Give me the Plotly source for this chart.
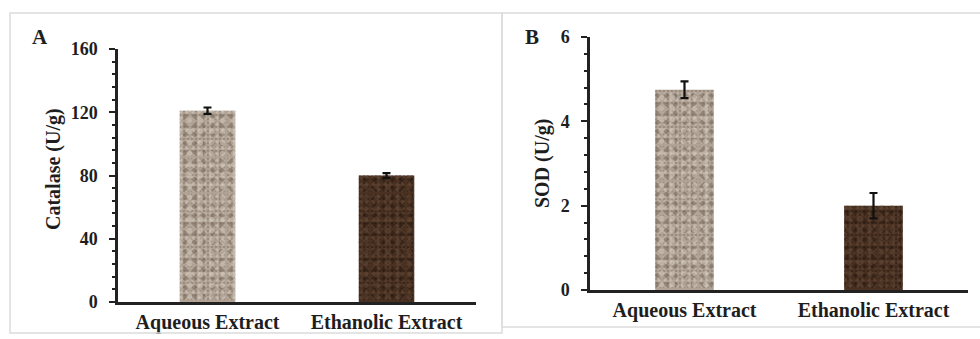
import plotly.graph_objects as go

W, H = 980, 339

categories = ["Aqueous Extract", "Ethanolic Extract"]
catalase = [121, 80]
catalase_err = [2.0, 1.5]
sod = [4.75, 2.0]
sod_err = [0.2, 0.3]

catalase_ticks = [0, 40, 80, 120, 160]
sod_ticks = [0, 2, 4, 6]

bar_bg = ["#b1a395", "#4a3122"]
# speckle layers: (shape, size, solidity, colours per bar)
speckles = [
    (".", 4, 0.3, ["#827366", "#2a190f"]),
    (".", 6, 0.25, ["#dad1c7", "#6a4e3b"]),
    (".", 9, 0.22, ["#6c5e52", "#22140b"]),
    (".", 11, 0.18, ["#d4cabf", "#5f4533"]),
]

FONT = "Liberation Serif"

def px(x):
    return x / W

def py(y):
    return 1 - y / H

fig = go.Figure()

for i, (vals, errs) in enumerate([(catalase, catalase_err), (sod, sod_err)]):
    suffix = "" if i == 0 else str(i + 1)
    fig.add_trace(go.Bar(
        x=categories, y=vals, width=0.31,
        marker=dict(color=bar_bg, line=dict(width=0)),
        xaxis="x" + suffix, yaxis="y" + suffix, showlegend=False, hoverinfo="skip",
    ))
    for k, (shape, size, sol, cols) in enumerate(speckles):
        last = k == len(speckles) - 1
        fig.add_trace(go.Bar(
            x=categories, y=vals, width=0.31,
            marker=dict(color="rgba(0,0,0,0)", line=dict(width=0),
                        pattern=dict(shape=shape, fgcolor=cols, bgcolor="rgba(0,0,0,0)",
                                     size=size, solidity=sol, fillmode="overlay")),
            error_y=dict(type="data", array=errs, visible=last,
                         color="#111111", thickness=2.2, width=4),
            xaxis="x" + suffix, yaxis="y" + suffix, showlegend=False,
            hoverinfo=None if last else "skip",
        ))

tickfont = dict(family=FONT, size=18, color="#1e1e1e", weight="bold")
xtickfont = dict(family=FONT, size=20, color="#1e1e1e", weight="bold")

common_x = dict(
    type="category", range=[-0.5, 1.5], showgrid=False, zeroline=False,
    showline=True, linecolor="#222222", linewidth=2.5, ticks="",
    tickfont=xtickfont, fixedrange=True, automargin=False,
)
common_y = dict(
    showgrid=False, zeroline=False, showline=True, linecolor="#222222",
    linewidth=2.5, ticks="outside", ticklen=6, tickwidth=2, tickcolor="#222222",
    tickfont=tickfont, ticklabelstandoff=8, automargin=False, fixedrange=True,
)

fig.update_layout(
    width=W, height=H, autosize=False,
    margin=dict(l=0, r=0, t=0, b=0, pad=0),
    paper_bgcolor="white", plot_bgcolor="rgba(0,0,0,0)",
    barmode="overlay", showlegend=False,
    xaxis=dict(domain=[px(118), px(476)], anchor="y", **common_x),
    yaxis=dict(domain=[py(302), py(49)], anchor="x", range=[0, 160],
               tickvals=catalase_ticks,
               minor=dict(dtick=8, ticks="outside", ticklen=3.5, tickwidth=1.6,
                          tickcolor="#222222"),
               **common_y),
    xaxis2=dict(domain=[px(590), px(968)], anchor="y2", **common_x),
    yaxis2=dict(domain=[py(290), py(37)], anchor="x2", range=[0, 6],
                tickvals=sod_ticks,
                minor=dict(dtick=0.4, ticks="outside", ticklen=3.5, tickwidth=1.6,
                           tickcolor="#222222"),
                **common_y),
)

title_font = dict(family=FONT, size=20, color="#1e1e1e", weight="bold")
letter_font = dict(family=FONT, size=21, color="#1e1e1e", weight="bold")

annotations = [
    dict(text="Catalase (U/g)", x=px(53), y=py(169), textangle=-90, font=title_font),
    dict(text="SOD (U/g)", x=px(543), y=py(164), textangle=-90, font=title_font),
    dict(text="A", x=px(40), y=py(37), font=letter_font),
    dict(text="B", x=px(532), y=py(37), font=letter_font),
]
for a in annotations:
    fig.add_annotation(xref="paper", yref="paper", showarrow=False,
                       xanchor="center", yanchor="middle", **a)

frame = dict(color="#dcdcdc", width=1.5)
fig.add_shape(type="rect", xref="paper", yref="paper",
              x0=px(10), x1=px(502), y0=py(333), y1=py(13), line=frame)
fig.add_shape(type="rect", xref="paper", yref="paper",
              x0=px(502), x1=px(985), y0=py(327), y1=py(13), line=frame)

fig.write_html(
    "out.html",
    config={"displayModeBar": False, "responsive": False},
    post_script="document.body.style.margin='0';document.body.style.overflow='hidden';",
)
